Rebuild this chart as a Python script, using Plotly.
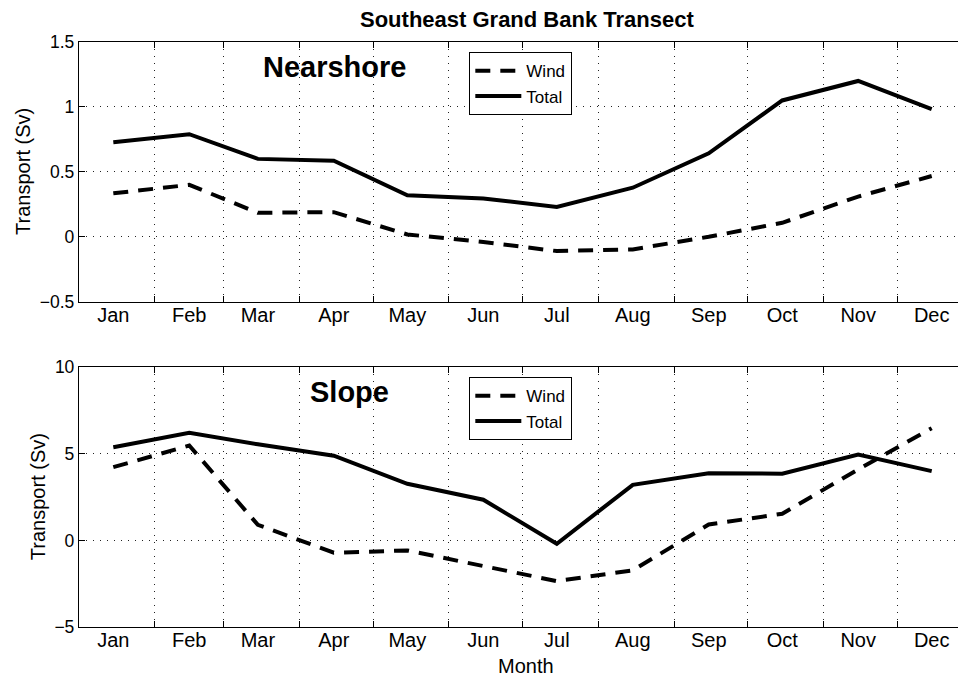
import plotly.graph_objects as go

months = ["Jan", "Feb", "Mar", "Apr", "May", "Jun", "Jul", "Aug", "Sep", "Oct", "Nov", "Dec"]
month_lengths = [31, 28, 31, 30, 31, 30, 31, 31, 30, 31, 30, 31]

near_wind = [0.335, 0.40, 0.185, 0.19, 0.018, -0.04, -0.11, -0.097, 0.0, 0.108, 0.31, 0.468]
near_total = [0.728, 0.79, 0.60, 0.586, 0.32, 0.295, 0.23, 0.378, 0.643, 1.05, 1.20, 0.983]
slope_wind = [4.23, 5.48, 0.9, -0.71, -0.58, -1.5, -2.35, -1.73, 0.92, 1.54, 4.1, 6.48]
slope_total = [5.38, 6.21, 5.55, 4.89, 3.27, 2.35, -0.19, 3.21, 3.88, 3.85, 4.96, 4.0]

# month start (day of year, zero-based) and 15th of each month
starts = []
acc = 0
for L in month_lengths:
    starts.append(acc)
    acc += L
mid = [s + 14 for s in starts]
bounds = starts[1:]

FONT = "Liberation Sans, Arial, Helvetica, sans-serif"
LW = 4
DASH = "15px,10px"

fig = go.Figure()
fig.add_trace(go.Scatter(x=mid, y=near_wind, mode="lines", name="Wind",
                         line=dict(color="black", width=LW, dash=DASH),
                         xaxis="x", yaxis="y", legend="legend"))
fig.add_trace(go.Scatter(x=mid, y=near_total, mode="lines", name="Total",
                         line=dict(color="black", width=LW),
                         xaxis="x", yaxis="y", legend="legend"))
fig.add_trace(go.Scatter(x=mid, y=slope_wind, mode="lines", name="Wind",
                         line=dict(color="black", width=LW, dash=DASH),
                         xaxis="x2", yaxis="y2", legend="legend2"))
fig.add_trace(go.Scatter(x=mid, y=slope_total, mode="lines", name="Total",
                         line=dict(color="black", width=LW),
                         xaxis="x2", yaxis="y2", legend="legend2"))

GRID = dict(color="#222", dash="1px,6px")

def xax(anchor):
    return dict(
        anchor=anchor, domain=[0, 1], range=[0, 362],
        tickmode="array", tickvals=mid, ticktext=months, ticks="",
        ticklabelstandoff=-5,
        showgrid=False, zeroline=False,
        showline=True, linecolor="black", linewidth=1.3, mirror="ticks",
        tickfont=dict(family=FONT, size=20, color="black"),
        minor=dict(tickmode="array", tickvals=bounds, ticks="inside", ticklen=6,
                   tickcolor="black", tickwidth=1, showgrid=True,
                   gridcolor=GRID["color"], griddash=GRID["dash"], gridwidth=1),
        fixedrange=True,
    )

def yax(anchor, domain, rng, dtick):
    return dict(
        anchor=anchor, domain=domain, range=rng, dtick=dtick, tick0=0,
        ticks="inside", ticklen=6, tickcolor="black",
        showgrid=True, gridcolor=GRID["color"], griddash=GRID["dash"], gridwidth=1,
        zeroline=False, showline=True, linecolor="black", linewidth=1.3,
        tickfont=dict(family=FONT, size=17.5, color="black"),
        fixedrange=True,
    )

legend_common = dict(
    xanchor="left", yanchor="top", bgcolor="white", bordercolor="black",
    borderwidth=1.3, font=dict(family=FONT, size=17, color="black"),
    tracegroupgap=0, itemwidth=46,
)

# page body has an 8px default margin: figure is placed at (8, 8)
fig.update_layout(
    width=958, height=669, autosize=False,
    margin=dict(l=71, r=0, t=34, b=50),
    paper_bgcolor="white", plot_bgcolor="white",
    showlegend=True,
    xaxis=xax("y"),
    xaxis2=xax("y2"),
    yaxis=yax("x", [0.556, 1.0], [-0.5, 1.5], 0.5),
    yaxis2=yax("x2", [0.0, 0.444], [-5, 10], 5),
    legend=dict(x=0.4397, y=0.983, **legend_common),
    legend2=dict(x=0.4397, y=0.4274, **legend_common),
    font=dict(family=FONT, color="black"),
    annotations=[
        dict(text="<b>Southeast Grand Bank Transect</b>", xref="paper", yref="paper",
             x=0.505, y=1.0393, xanchor="center", yanchor="middle", showarrow=False,
             font=dict(family=FONT, size=22, color="black")),
        dict(text="<b>Nearshore</b>", xref="x domain", yref="y domain",
             x=0.2875, y=0.905, xanchor="center", yanchor="middle", showarrow=False,
             font=dict(family=FONT, size=29, color="black")),
        dict(text="<b>Slope</b>", xref="x2 domain", yref="y2 domain",
             x=0.3044, y=0.906, xanchor="center", yanchor="middle", showarrow=False,
             font=dict(family=FONT, size=29, color="black")),
        dict(text="Month", xref="paper", yref="paper",
             x=0.5036, y=-0.0667, xanchor="center", yanchor="middle", showarrow=False,
             font=dict(family=FONT, size=20, color="black")),
        dict(text="Transport (Sv)", xref="paper", yref="y domain",
             x=-0.0631, y=0.5, xanchor="center", yanchor="middle", textangle=-90,
             showarrow=False, font=dict(family=FONT, size=20, color="black")),
        dict(text="Transport (Sv)", xref="paper", yref="y2 domain",
             x=-0.0462, y=0.5, xanchor="center", yanchor="middle", textangle=-90,
             showarrow=False, font=dict(family=FONT, size=20, color="black")),
    ],
)

fig.write_html("out.html", config={"displayModeBar": False})
